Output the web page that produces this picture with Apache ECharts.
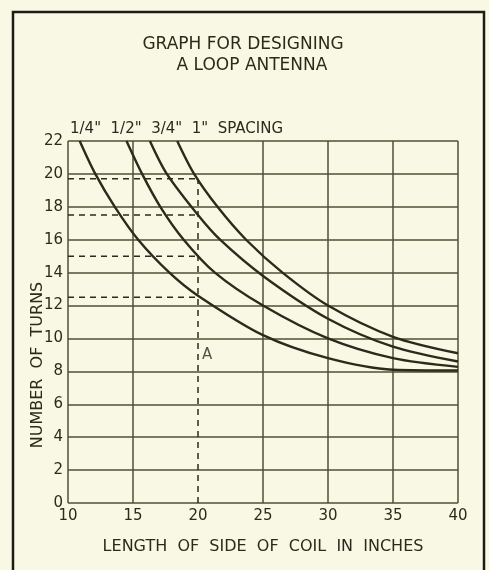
<!DOCTYPE html>
<html>
<head>
<meta charset="utf-8">
<title>Graph for designing a loop antenna</title>
<script src="https://cdn.jsdelivr.net/npm/echarts@6/dist/echarts.min.js"></script>
<style>
  html, body { margin: 0; padding: 0; background: #f8f8e4; }
  #chart { width: 489px; height: 570px; }
</style>
</head>
<body>
<div id="chart"></div>
<script>
// length of side of coil (inches) -> number of turns, one curve per spacing
var spacingNames = ['1/4"', '1/2"', '3/4"', '1"'];
var quarterInch = [[10.9, 22], [12.1, 20], [13.6, 18], [15.4, 16], [17.8, 14], [20, 12.6], [25, 10.2], [30, 8.8], [35, 8.1], [40, 8.05]];
var halfInch = [[14.5, 22], [15.7, 20], [17.1, 18], [18.9, 16], [21.3, 14], [25, 12], [30, 10], [35, 8.8], [40, 8.27]];
var threeQuarterInch = [[16.3, 22], [17.6, 20], [20, 17.5], [21.7, 16], [25, 13.8], [30, 11.2], [35, 9.5], [40, 8.6]];
var oneInch = [[18.4, 22], [19.7, 20], [21.5, 18], [23.7, 16], [26.5, 14], [30, 12], [35, 10.1], [40, 9.1]];

// worked example: 20 inch side read across to each curve
var exampleSide = 20;
var exampleTurns = [19.7, 17.5, 15.0, 12.5];
var markA = [20.7, 9];

var xMin = 10, xMax = 40, xStep = 5;
var yMin = 0, yMax = 22, yStep = 2;

var ink = '#2a2b1c';
var gridInk = '#505036';
var font = 'DejaVu Sans';

var chart = echarts.init(document.getElementById('chart'));

var curves = [quarterInch, halfInch, threeQuarterInch, oneInch];
var series = curves.map(function (d, i) {
  return {
    name: spacingNames[i],
    type: 'line',
    data: d,
    smooth: 0.3,
    showSymbol: false,
    lineStyle: { color: ink, width: 2.4 },
    z: 5
  };
});

exampleTurns.forEach(function (t) {
  series.push({
    type: 'line',
    data: [[xMin, t], [exampleSide, t]],
    showSymbol: false,
    lineStyle: { color: ink, width: 1.5, type: [6, 5] },
    z: 4
  });
});
series.push({
  type: 'line',
  data: [[exampleSide, yMin], [exampleSide, exampleTurns[0]]],
  showSymbol: false,
  lineStyle: { color: ink, width: 1.5, type: [6, 5] },
  z: 4
});
series.push({
  type: 'scatter',
  data: [markA],
  symbolSize: 0,
  label: {
    show: true, formatter: 'A', position: 'inside',
    color: ink, fontFamily: font, fontSize: 15
  }
});

// grid line at 20 is replaced by the dashed example line
var xLineColors = [];
for (var v = xMin; v <= xMax; v += xStep) {
  xLineColors.push(v === exampleSide ? 'rgba(0,0,0,0)' : gridInk);
}

var option = {
  backgroundColor: '#f8f8e4',
  animation: false,
  grid: { left: 68, right: 31, top: 141, bottom: 67 },
  xAxis: {
    type: 'value',
    min: xMin, max: xMax, interval: xStep,
    name: 'LENGTH  OF  SIDE  OF  COIL  IN  INCHES',
    nameLocation: 'middle',
    nameGap: 36,
    nameTextStyle: { color: ink, fontFamily: font, fontSize: 16 },
    axisLine: { show: false },
    axisTick: { show: false },
    axisLabel: { color: ink, fontFamily: font, fontSize: 15, margin: 6 },
    splitLine: { show: true, lineStyle: { color: xLineColors, width: 1.5 } }
  },
  yAxis: {
    type: 'value',
    min: yMin, max: yMax, interval: yStep,
    axisLine: { show: false },
    axisTick: { show: false },
    axisLabel: { color: ink, fontFamily: font, fontSize: 15, margin: 5 },
    splitLine: { show: true, lineStyle: { color: gridInk, width: 1.5 } }
  },
  graphic: [
    {
      type: 'rect',
      shape: { x: 13, y: 12, width: 471, height: 600 },
      style: { fill: null, stroke: '#1c1c14', lineWidth: 2.5 }
    },
    {
      type: 'text', x: 243, y: 45,
      style: { text: 'GRAPH FOR DESIGNING', fill: ink, font: '17px "DejaVu Sans"', textAlign: 'center', textVerticalAlign: 'middle' }
    },
    {
      type: 'text', x: 252, y: 66,
      style: { text: 'A LOOP ANTENNA', fill: ink, font: '17px "DejaVu Sans"', textAlign: 'center', textVerticalAlign: 'middle' }
    },
    {
      type: 'text', x: 70, y: 129,
      style: { text: spacingNames.join('  ') + '  SPACING', fill: ink, font: '15px "DejaVu Sans"', textAlign: 'left', textVerticalAlign: 'middle' }
    },
    {
      type: 'text', x: 38, y: 365, rotation: Math.PI / 2,
      style: { text: 'NUMBER  OF  TURNS', fill: ink, font: '16px "DejaVu Sans"', textAlign: 'center', textVerticalAlign: 'middle' }
    }
  ],
  series: series
};

chart.setOption(option);
</script>
</body>
</html>
